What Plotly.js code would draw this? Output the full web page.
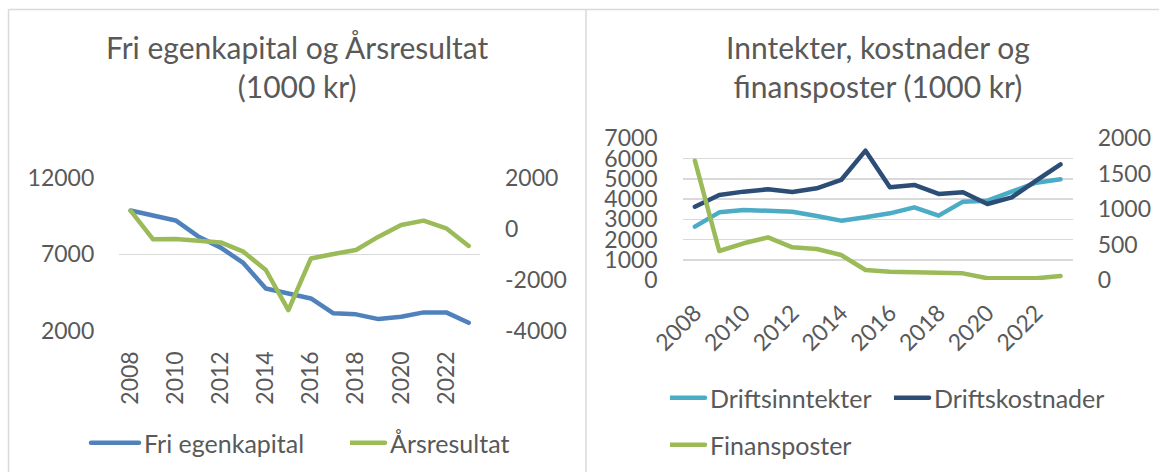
<!DOCTYPE html>
<html>
<head>
<meta charset="utf-8">
<script src="https://cdn.plot.ly/plotly-3.0.1.min.js"></script>
<style>
html,body{margin:0;padding:0;background:#fff;}
#chart{width:1159px;height:472px;}
.js-line{stroke-linejoin:round;stroke-linecap:round;}
</style>
</head>
<body>
<div id="chart"></div>
<script>
// ---- data ----
const years = [2008,2009,2010,2011,2012,2013,2014,2015,2016,2017,2018,2019,2020,2021,2022,2023];
const yearTicks = [2008,2010,2012,2014,2016,2018,2020,2022];
const yearTickLabels = ["2008","2010","2012","2014","2016","2018","2020","2022"];

const friEgenkapital = [9870,9545,9220,8175,7440,6435,4765,4440,4110,3135,3070,2760,2915,3200,3200,2520];
const arsresultat   = [715,-410,-395,-475,-530,-895,-1615,-3190,-1160,-985,-830,-305,155,325,25,-670];

const driftsinntekter = [2635,3343,3459,3409,3376,3162,2932,3096,3294,3590,3179,3870,3920,4365,4809,4974];
const driftskostnader = [3623,4200,4365,4480,4348,4530,4941,6390,4579,4694,4250,4332,3755,4085,4908,5715];
const finansposter    = [1684,409,518,602,461,438,353,141,118,108,94,94,24,19,24,56];

const leftY1Ticks = [2000,7000,12000];
const leftY1Labels = ["2000","7000","12000"];
const leftY2Ticks = [-4000,-2000,0,2000];
const leftY2Labels = ["-4000","-2000","0","2000"];
const rightY1Ticks = [0,1000,2000,3000,4000,5000,6000,7000];
const rightY1Labels = ["0","1000","2000","3000","4000","5000","6000","7000"];
const rightY2Ticks = [0,500,1000,1500,2000];
const rightY2Labels = ["0","500","1000","1500","2000"];

const title1 = "Fri egenkapital og Årsresultat<br>(1000 kr)";
const title2 = "Inntekter, kostnader og<br>finansposter (1000 kr)";

// ---- layout helpers ----
const W = 1159, H = 472;
const px = v => v / W;
const py = v => 1 - v / H;
const FONT = "Lato, 'Noto Sans', sans-serif";
const TXT = "#595959";
const GRID = "#d9d9d9";
const LW = 4.5;

const traces = [
  {x: years, y: friEgenkapital, name: "Fri egenkapital", type: "scatter", mode: "lines",
   line: {color: "#4F81BD", width: LW}, xaxis: "x", yaxis: "y", legend: "legend"},
  {x: years, y: arsresultat, name: "Årsresultat", type: "scatter", mode: "lines",
   line: {color: "#9BBB59", width: LW}, xaxis: "x", yaxis: "y2", legend: "legend2"},
  {x: years, y: driftsinntekter, name: "Driftsinntekter", type: "scatter", mode: "lines",
   line: {color: "#4BACC6", width: LW}, xaxis: "x2", yaxis: "y3", legend: "legend3"},
  {x: years, y: driftskostnader, name: "Driftskostnader", type: "scatter", mode: "lines",
   line: {color: "#2C4D75", width: LW}, xaxis: "x2", yaxis: "y3", legend: "legend4"},
  {x: years, y: finansposter, name: "Finansposter", type: "scatter", mode: "lines",
   line: {color: "#9BBB59", width: LW}, xaxis: "x2", yaxis: "y4", legend: "legend5"}
];

const tickFont = {family: FONT, size: 23, color: TXT};
const legFont = {family: FONT, size: 25, color: TXT};

const xCommon = {
  range: [2007.5, 2023.5], tickmode: "array", tickvals: yearTicks, ticktext: yearTickLabels,
  showgrid: false, zeroline: false, showline: false, ticks: "", tickfont: tickFont,
  automargin: false, fixedrange: true
};

function leg(textX, textY) {
  return {orientation: "h", x: px(textX - 41), xanchor: "left", y: py(textY), yanchor: "middle",
    font: legFont, bgcolor: "rgba(0,0,0,0)"};
}

const layout = {
  width: W, height: H,
  margin: {l: 0, r: 0, t: 0, b: 0, pad: 0},
  paper_bgcolor: "#fff", plot_bgcolor: "rgba(0,0,0,0)",
  font: {family: FONT, color: TXT},
  showlegend: true,
  xaxis: Object.assign({}, xCommon, {domain: [px(119.3), px(480)], anchor: "y", tickangle: -90, ticklabelstandoff: 15}),
  yaxis: {domain: [py(330.7), py(178)], range: [2000, 12000], tickmode: "array",
    tickvals: leftY1Ticks, ticktext: leftY1Labels, showgrid: true, gridcolor: GRID, gridwidth: 1.5,
    zeroline: false, showline: false, ticks: "", tickfont: tickFont, automargin: false,
    ticklabelstandoff: 24, anchor: "x"},
  yaxis2: {overlaying: "y", side: "right", anchor: "x", range: [-4000, 2000], tickmode: "array",
    tickvals: leftY2Ticks, ticktext: leftY2Labels, showgrid: false, zeroline: false, showline: false,
    ticks: "", tickfont: tickFont, automargin: false, ticklabelstandoff: 24},
  xaxis2: Object.assign({}, xCommon, {domain: [px(682.7), px(1072.7)], anchor: "y3", tickangle: -45, ticklabelstandoff: 14}),
  yaxis3: {domain: [py(280), py(138.3)], range: [0, 7000], tickmode: "array",
    tickvals: rightY1Ticks, ticktext: rightY1Labels, showgrid: true, gridcolor: GRID, gridwidth: 1.5,
    zeroline: false, showline: false, ticks: "", tickfont: tickFont, automargin: false,
    ticklabelstandoff: 24, anchor: "x2"},
  yaxis4: {overlaying: "y3", side: "right", anchor: "x2", range: [0, 2000], tickmode: "array",
    tickvals: rightY2Ticks, ticktext: rightY2Labels, showgrid: false, zeroline: false, showline: false,
    ticks: "", tickfont: tickFont, automargin: false, ticklabelstandoff: 24},
  legend: leg(145, 443),
  legend2: leg(391, 443),
  legend3: leg(711, 398),
  legend4: leg(935, 398),
  legend5: leg(711, 445),
  annotations: [
    {text: title1, xref: "paper", yref: "paper", x: px(297), y: py(67), xanchor: "center", yanchor: "middle",
     showarrow: false, font: {family: FONT, size: 30, color: TXT}},
    {text: title2, xref: "paper", yref: "paper", x: px(878), y: py(67), xanchor: "center", yanchor: "middle",
     showarrow: false, font: {family: FONT, size: 30, color: TXT}}
  ],
  shapes: [
    {type: "line", xref: "paper", yref: "paper", x0: px(8.5), x1: px(8.5), y0: 0, y1: py(9.5), line: {color: GRID, width: 1.5}},
    {type: "line", xref: "paper", yref: "paper", x0: px(8.5), x1: 1, y0: py(9.5), y1: py(9.5), line: {color: GRID, width: 1.5}},
    {type: "line", xref: "paper", yref: "paper", x0: px(586), x1: px(586), y0: 0, y1: py(9.5), line: {color: GRID, width: 1.5}}
  ]
};

Plotly.newPlot("chart", traces, layout, {staticPlot: true, displayModeBar: false}).then(function (gd) {
  // lengthen the legend line samples to match the reference (and let them extend past the legend box)
  gd.querySelectorAll("g.legend .scrollbox, g.legend").forEach(function (g) { g.removeAttribute("clip-path"); });
  gd.querySelectorAll("g.legendlines path").forEach(function (p) { p.setAttribute("d", "M-13,0h48"); });
});
</script>
</body>
</html>
